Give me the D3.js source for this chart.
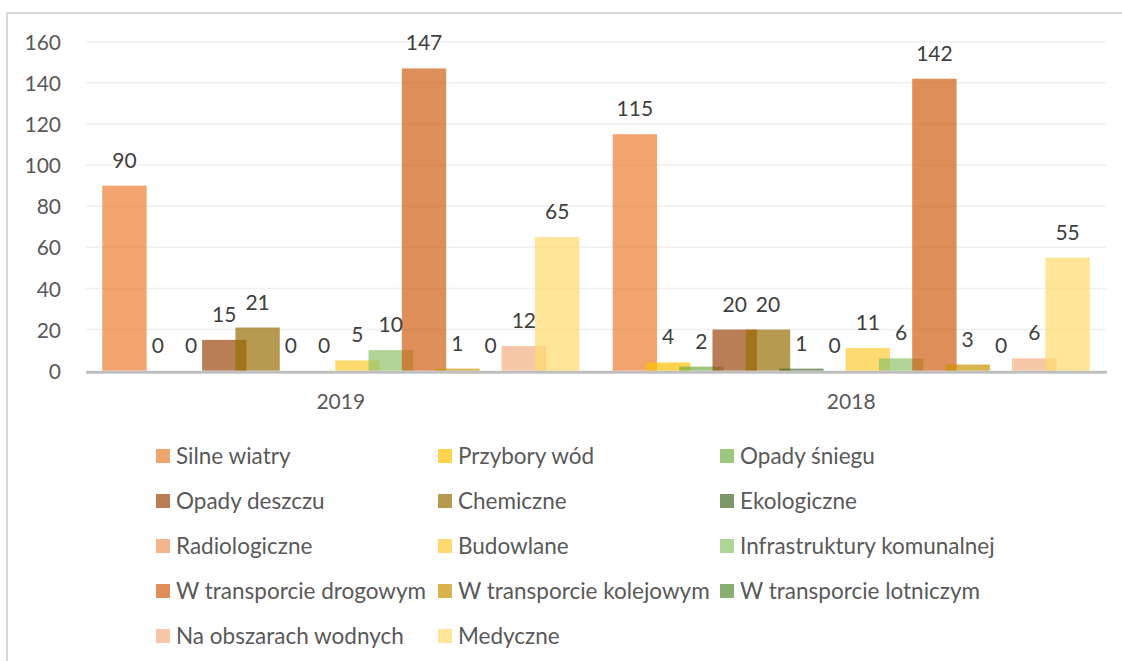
<!DOCTYPE html>
<html>
<head>
<meta charset="utf-8">
<script src="https://cdn.jsdelivr.net/npm/d3@7"></script>
<style>
	html, body { margin: 0; padding: 0; background: #ffffff; }
	svg { display: block; font-family: Lato, "Open Sans", sans-serif; }
</style>
</head>
<body>
<div id="chart"></div>
<script>
const categories = ['2019', '2018'];
const seriesNames = [
	'Silne wiatry', 'Przybory wód', 'Opady śniegu',
	'Opady deszczu', 'Chemiczne', 'Ekologiczne',
	'Radiologiczne', 'Budowlane', 'Infrastruktury komunalnej',
	'W transporcie drogowym', 'W transporcie kolejowym', 'W transporcie lotniczym',
	'Na obszarach wodnych', 'Medyczne'
];
const values2019 = [90, 0, 0, 15, 21, 0, 0, 5, 10, 147, 1, 0, 12, 65];
const values2018 = [115, 4, 2, 20, 20, 1, 0, 11, 6, 142, 3, 0, 6, 55];
const seriesColors = [
	'#ec7d31', '#ffc000', '#73af48',
	'#9b470e', '#956f04', '#446927',
	'#ef975b', '#ffca31', '#8dc269',
	'#d05f13', '#c99400', '#588c36',
	'#f2b083', '#ffda6c'
];
const yTicks = [0, 20, 40, 60, 80, 100, 120, 140, 160];

const W = 1122, H = 661;
const plot = { left: 85.6, right: 1106.4, top: 41.7, bottom: 370.7 };
const barOpacity = 0.7;
const textColor = '#595959';

const valuesByCategory = { '2019': values2019, '2018': values2018 };
const bars = [];
categories.forEach(cat => {
	seriesNames.forEach((name, i) => bars.push({ cat, name, i, value: valuesByCategory[cat][i] }));
});

const svg = d3.select('#chart')
	.append('svg')
	.attr('width', W)
	.attr('height', H);

// Chart area border (only top/left visible in frame)
svg.append('rect')
	.attr('x', 7).attr('y', 13)
	.attr('width', W + 20).attr('height', H + 20)
	.attr('fill', '#ffffff')
	.attr('stroke', '#d9d9d9')
	.attr('stroke-width', 2);

const y = d3.scaleLinear().domain([0, 160]).range([plot.bottom, plot.top]);
const x0 = d3.scaleBand().domain(categories).range([plot.left, plot.right]);
// gap width 75%, overlap 25%
const barW = x0.bandwidth() / 11.5;
const step = barW * 0.75;
const x1 = d3.scaleBand().domain(seriesNames).range([barW * 0.375, barW * 0.375 + step * seriesNames.length]);
const color = d3.scaleOrdinal().domain(seriesNames).range(seriesColors);

// Gridlines
svg.append('g')
	.selectAll('line')
	.data(yTicks.filter(d => d > 0))
	.enter()
	.append('line')
	.attr('x1', plot.left).attr('x2', plot.right)
	.attr('y1', d => y(d)).attr('y2', d => y(d))
	.attr('stroke', '#efefef')
	.attr('stroke-width', 1.5);

// Y axis labels
const yAxis = svg.append('g')
	.attr('transform', 'translate(61,0)')
	.call(d3.axisLeft(y).tickValues(yTicks).tickSize(0).tickPadding(0));
yAxis.select('.domain').remove();
yAxis.selectAll('text')
	.attr('dy', '0.36em')
	.style('font-family', 'Lato, sans-serif')
	.style('font-size', '21px')
	.style('fill', textColor);

// Bars
svg.append('g')
	.selectAll('rect')
	.data(bars)
	.enter()
	.append('rect')
	.attr('x', d => x0(d.cat) + x1(d.name))
	.attr('y', d => y(d.value))
	.attr('width', barW)
	.attr('height', d => y(0) - y(d.value))
	.attr('fill', d => color(d.name))
	.attr('fill-opacity', barOpacity);

// Category axis
const xAxis = svg.append('g')
	.attr('transform', `translate(0,${y(0) + 1})`)
	.call(d3.axisBottom(x0).tickSize(0).tickPadding(22));
xAxis.select('.domain')
	.attr('stroke', '#bfbfbf')
	.attr('stroke-width', 3);
xAxis.selectAll('text')
	.style('font-family', 'Lato, sans-serif')
	.style('font-size', '21px')
	.style('fill', textColor);

// Data labels
svg.append('g')
	.selectAll('text')
	.data(bars)
	.enter()
	.append('text')
	.attr('x', d => x0(d.cat) + x1(d.name) + barW / 2)
	.attr('y', d => y(d.value) - 18)
	.attr('text-anchor', 'middle')
	.style('font-size', '21px')
	.style('fill', '#404040')
	.text(d => d.value);

// Legend: 3 columns, row-major
const legend = svg.append('g')
	.selectAll('g')
	.data(seriesNames)
	.enter()
	.append('g')
	.attr('transform', (d, i) => `translate(${156 + (i % 3) * 282},${456 + Math.floor(i / 3) * 45})`);
legend.append('rect')
	.attr('x', 0).attr('y', -7)
	.attr('width', 14).attr('height', 14)
	.attr('fill', d => color(d))
	.attr('fill-opacity', barOpacity);
legend.append('text')
	.attr('x', 20)
	.attr('dy', '0.36em')
	.style('font-size', '22.5px')
	.style('fill', textColor)
	.text(d => d);
</script>
</body>
</html>
